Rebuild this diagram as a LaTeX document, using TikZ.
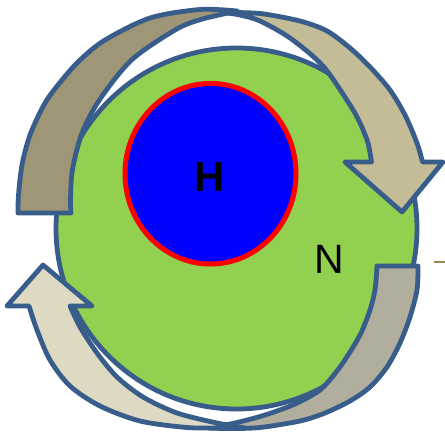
\documentclass[tikz,border=0pt]{standalone}
\usepackage{fontspec}
\setmainfont{Liberation Sans}
\definecolor{edge}{HTML}{385D8A}
\definecolor{grn}{HTML}{92D050}
\definecolor{darkk}{HTML}{9E9676}
\definecolor{lightk}{HTML}{C4BC96}
\definecolor{grayk}{HTML}{B2AE9E}
\definecolor{palek}{HTML}{DDD9C3}
\definecolor{olivek}{HTML}{948A54}
\begin{document}
\begin{tikzpicture}[x=1pt,y=-1pt,
  piece/.style={draw=edge, line width=4.8pt, line join=round},
  label/.style={inner sep=0pt, text=black, font=\fontsize{41}{41}\selectfont}]
\useasboundingbox (0,0) rectangle (445,432);
\fill[white] (0,0) rectangle (445,432);
% green cell
\draw[piece, fill=grn] (236.5,228.5) circle[radius=180.5pt];
% nucleus
\draw[draw=red, line width=5pt, fill=blue] (210.5,173.7) ellipse[x radius=85.5pt, y radius=90.3pt];
% top-left dark piece
\draw[piece, fill=darkk] plot[smooth] coordinates {(18,213) (18.5,195) (22,165) (30,135) (45,103) (62,80) (80,60) (105,40) (150,18) (200,9.5) (237,11)}
  -- plot[smooth] coordinates {(237,11) (200,19.7) (175,30) (131.5,60) (99.4,100) (82,133) (72.4,170) (70.5,200) (71,213)} -- cycle;
% top-right arrow
\draw[piece, fill=lightk] plot[smooth] coordinates {(223,12.5) (260,13.5) (300,21) (327,31) (350,48) (370,67) (390,90) (405,115) (417,143) (422.5,162)}
  -- (443,162) -- (402,212) -- (345,162) -- (371.5,162)
  -- plot[smooth] coordinates {(371.5,162) (368,143) (360,123) (350,105) (323,66) (290,38) (260,21) (240,15) (223,12.5)} -- cycle;
% bottom-right gray piece
\draw[piece, fill=grayk] plot[smooth] coordinates {(377,266) (375,290) (370,310) (361,333) (350,352) (337,371) (320,390) (295,404) (265,415) (235,423) (208,428)}
  -- plot[smooth] coordinates {(208,428) (230,428.5) (260,427.5) (300,421) (325,413) (350,401) (370,387) (387,367) (400,343) (410,317) (417,290) (418,266)} -- cycle;
% bottom-left arrow
\draw[piece, fill=palek] plot[smooth] coordinates {(245,428) (220,428) (187,427.5) (140,421) (100,406) (70,386) (50,360) (37,330) (29,306)}
  -- (7,306) -- (43,265) -- (92,306) -- (70,306)
  -- plot[smooth] coordinates {(70,306) (80,327) (97,353) (117,377) (143,397) (177,413) (217,423) (245,428)} -- cycle;
% small line fragment at right
\coordinate (f1) at (434,262);
\coordinate (f2) at (445,262);
\draw[olivek, line width=2pt] (f1) -- (f2);
% labels
\node[label, font=\fontsize{42}{42}\selectfont\bfseries] (H) at (209.5,177) {H};
\node[label] (N) at (329.5,259.5) {N};
\end{tikzpicture}
\end{document}
